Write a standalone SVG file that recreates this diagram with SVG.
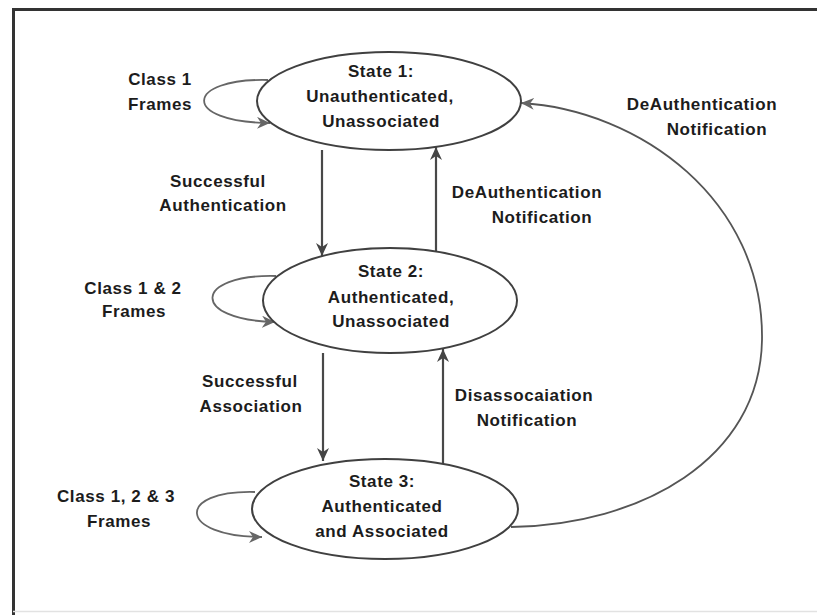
<svg xmlns="http://www.w3.org/2000/svg" width="817" height="615" viewBox="0 0 817 615">
  <defs>
    <marker id="head" markerUnits="userSpaceOnUse" markerWidth="16" markerHeight="14" refX="13" refY="6" orient="auto">
      <path d="M0,0 L13,6 L0,12 L4,6 z" fill="#444"/>
    </marker>
    <marker id="headLight" markerUnits="userSpaceOnUse" markerWidth="16" markerHeight="14" refX="13" refY="6" orient="auto">
      <path d="M0,0 L13,6 L0,12 L4,6 z" fill="#666"/>
    </marker>
  </defs>
  <style>
    .state { fill: #ffffff; stroke: #404040; stroke-width: 2; }
    .lbl { font-family: "Liberation Sans", Arial, Helvetica, sans-serif; font-weight: bold; font-size: 17px; letter-spacing: 0.6px; fill: #1c1c1c; text-anchor: middle; }
    .edge { fill: none; stroke: #484848; stroke-width: 2.2; marker-end: url(#head); }
    .loop { fill: none; stroke: #666; stroke-width: 1.8; marker-end: url(#headLight); }
    .arc { fill: none; stroke: #555; stroke-width: 1.8; marker-end: url(#headLight); }
  </style>

  <rect width="817" height="615" fill="#ffffff"/>

  <!-- frame -->
  <g id="frame">
    <line x1="12" y1="9.5" x2="817" y2="9.5" stroke="#333" stroke-width="3"/>
    <line x1="13.5" y1="8" x2="13.5" y2="615" stroke="#333" stroke-width="3"/>
    <line x1="13" y1="611.5" x2="817" y2="611.5" stroke="#e2e2e2" stroke-width="1.5"/>
  </g>

  <!-- transitions -->
  <g id="connectors">
    <path class="edge" d="M322,150 L322,256"/>
    <path class="edge" d="M436,252 L436,147"/>
    <path class="edge" d="M323,353 L323,461"/>
    <path class="edge" d="M443,463 L443,349"/>
    <path class="loop" d="M268,80 C185,78 180,122 270,123"/>
    <path class="loop" d="M276,276 C193,274 190,320 275,322"/>
    <path class="loop" d="M255,492 C175,490 178,537 262,537"/>
    <path class="arc" d="M511,527 C640,525 760,460 762,340 C764,200 640,110 521,103"/>
  </g>

  <g id="state1">
    <ellipse class="state" cx="389" cy="101" rx="132" ry="49"/>
    <text class="lbl" x="381" y="77">State 1:</text>
    <text class="lbl" x="380" y="102">Unauthenticated,</text>
    <text class="lbl" x="381" y="127">Unassociated</text>
  </g>

  <g id="state2">
    <ellipse class="state" cx="390" cy="300.5" rx="127" ry="52.5"/>
    <text class="lbl" x="391" y="277">State 2:</text>
    <text class="lbl" x="391" y="303">Authenticated,</text>
    <text class="lbl" x="391" y="327">Unassociated</text>
  </g>

  <g id="state3">
    <ellipse class="state" cx="385" cy="509" rx="133" ry="50"/>
    <text class="lbl" x="382" y="487">State 3:</text>
    <text class="lbl" x="382" y="512">Authenticated</text>
    <text class="lbl" x="382" y="537">and Associated</text>
  </g>

  <g id="labels">
    <text class="lbl" x="160" y="85">Class 1</text>
    <text class="lbl" x="160" y="110">Frames</text>
    <text class="lbl" x="218" y="187">Successful</text>
    <text class="lbl" x="223" y="211">Authentication</text>
    <text class="lbl" x="527" y="198">DeAuthentication</text>
    <text class="lbl" x="542" y="223">Notification</text>
    <text class="lbl" x="702" y="110">DeAuthentication</text>
    <text class="lbl" x="717" y="135">Notification</text>
    <text class="lbl" x="133" y="294">Class 1 &amp; 2</text>
    <text class="lbl" x="134" y="317">Frames</text>
    <text class="lbl" x="250" y="387">Successful</text>
    <text class="lbl" x="251" y="412">Association</text>
    <text class="lbl" x="524" y="401">Disassocaiation</text>
    <text class="lbl" x="527" y="426">Notification</text>
    <text class="lbl" x="116" y="502">Class 1, 2 &amp; 3</text>
    <text class="lbl" x="119" y="527">Frames</text>
  </g>
</svg>
